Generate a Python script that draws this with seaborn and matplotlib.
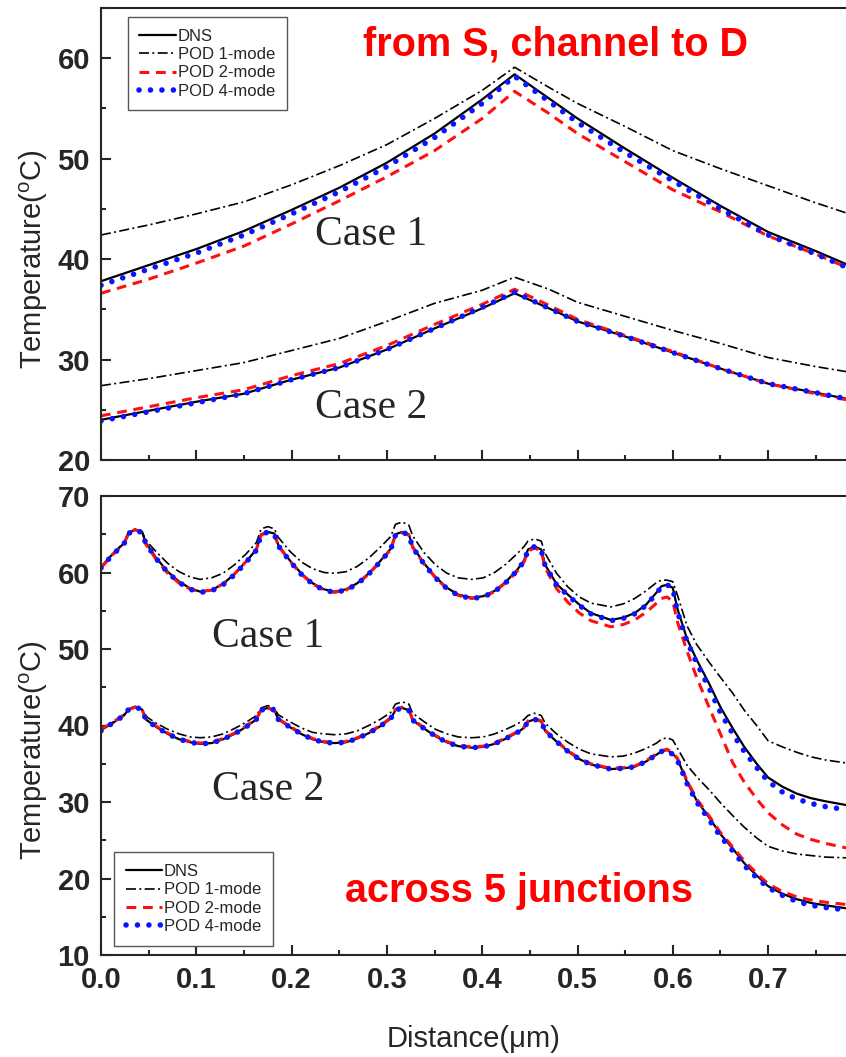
import numpy as np
import matplotlib
matplotlib.use('Agg')
import matplotlib.pyplot as plt
import seaborn as sns
from matplotlib.ticker import MultipleLocator

# ---- top panel: from S, channel to D ----
x_top = [0.000, 0.050, 0.100, 0.150, 0.200, 0.250, 0.300, 0.350, 0.400,
         0.434, 0.470, 0.500, 0.550, 0.600, 0.650, 0.700, 0.750, 0.782]

t1_dns = [37.8, 39.4, 41.0, 42.8, 44.9, 47.1, 49.6, 52.5, 55.9,
          58.4, 56.0, 54.0, 51.0, 48.1, 45.3, 42.7, 40.8, 39.5]
t1_pod1 = [42.4, 43.4, 44.5, 45.7, 47.4, 49.3, 51.4, 54.0, 56.8,
           59.1, 57.1, 55.5, 53.2, 50.8, 49.0, 47.3, 45.6, 44.6]
t1_pod2 = [36.6, 38.0, 39.6, 41.3, 43.5, 45.8, 48.2, 50.8, 54.0,
           56.7, 54.5, 52.5, 49.7, 46.9, 44.7, 42.3, 40.5, 39.2]
t1_pod4 = [37.4, 39.0, 40.6, 42.4, 44.5, 46.7, 49.2, 52.1, 55.5,
           58.2, 55.7, 53.6, 50.6, 47.8, 45.0, 42.4, 40.5, 39.2]

t2_dns = [24.0, 24.9, 25.8, 26.6, 28.0, 29.2, 31.0, 33.1, 35.1,
          36.6, 35.1, 33.8, 32.3, 30.7, 29.1, 27.6, 26.7, 26.1]
t2_pod1 = [27.4, 28.1, 28.9, 29.7, 30.9, 32.1, 33.8, 35.6, 36.9,
           38.2, 37.0, 35.7, 34.3, 32.9, 31.6, 30.2, 29.3, 28.8]
t2_pod2 = [24.4, 25.3, 26.2, 27.0, 28.4, 29.6, 31.4, 33.5, 35.5,
           37.0, 35.4, 34.0, 32.4, 30.8, 29.1, 27.6, 26.6, 26.0]
t2_pod4 = [23.9, 24.8, 25.7, 26.6, 28.0, 29.2, 31.0, 33.1, 35.2,
           36.7, 35.1, 33.8, 32.3, 30.7, 29.1, 27.6, 26.7, 26.1]

# ---- bottom panel: across 5 junctions ----
x_bot = [0.000, 0.012, 0.024, 0.029, 0.036, 0.043, 0.047, 0.058, 0.070, 0.082,
         0.094, 0.104, 0.116, 0.128, 0.140, 0.152, 0.163, 0.168, 0.175, 0.182,
         0.186, 0.198, 0.210, 0.222, 0.234, 0.245, 0.257, 0.269, 0.281, 0.293,
         0.304, 0.309, 0.316, 0.323, 0.327, 0.339, 0.351, 0.363, 0.375, 0.389,
         0.401, 0.413, 0.425, 0.437, 0.444, 0.448, 0.455, 0.462, 0.466, 0.478,
         0.490, 0.502, 0.514, 0.535, 0.548, 0.560, 0.572, 0.583, 0.588, 0.594,
         0.600, 0.605, 0.615, 0.625, 0.638, 0.650, 0.663, 0.675, 0.688, 0.700,
         0.715, 0.730, 0.745, 0.760, 0.782]

b1_dns = [60.7, 62.4, 63.8, 65.2, 65.6, 65.3, 63.9, 61.9, 60.1, 58.8,
          57.9, 57.5, 57.7, 58.5, 59.8, 61.4, 63.0, 65.0, 65.3, 65.1,
          63.6, 61.6, 59.9, 58.6, 57.8, 57.5, 57.8, 58.6, 59.9, 61.5,
          63.1, 65.0, 65.3, 65.0, 63.4, 61.2, 59.4, 58.0, 57.1, 56.7,
          56.9, 57.6, 58.8, 60.4, 61.6, 63.0, 63.4, 63.0, 61.0, 58.5,
          57.1, 55.8, 54.7, 53.8, 54.1, 54.7, 55.8, 57.4, 58.2, 58.4,
          58.0, 55.2, 51.3, 48.6, 45.5, 42.4, 39.6, 37.2, 35.0, 33.2,
          32.0, 31.1, 30.5, 30.1, 29.6]
b1_pod1 = [60.7, 62.4, 63.9, 65.3, 65.7, 65.4, 64.2, 62.7, 61.2, 60.1,
           59.4, 59.1, 59.3, 59.9, 61.0, 62.4, 63.9, 65.7, 66.0, 65.7,
           64.6, 62.8, 61.4, 60.5, 60.0, 59.9, 60.1, 60.8, 61.9, 63.3,
           64.7, 66.3, 66.6, 66.2, 64.8, 62.6, 61.0, 59.9, 59.3, 59.1,
           59.3, 60.0, 61.1, 62.5, 63.4, 64.1, 64.4, 64.1, 62.5, 59.9,
           58.1, 56.8, 56.0, 55.5, 55.9, 56.6, 57.6, 58.7, 59.0, 59.0,
           58.8, 57.0, 53.0, 50.6, 48.3, 46.3, 44.2, 42.0, 40.0, 38.0,
           37.2, 36.5, 35.9, 35.5, 35.1]
b1_pod2 = [60.6, 62.3, 63.7, 65.1, 65.6, 65.2, 63.7, 61.7, 59.9, 58.6,
           57.8, 57.5, 57.7, 58.5, 59.8, 61.4, 63.0, 64.9, 65.2, 65.0,
           63.5, 61.5, 59.8, 58.5, 57.7, 57.4, 57.7, 58.5, 59.8, 61.4,
           63.0, 64.9, 65.2, 64.9, 63.3, 61.1, 59.3, 57.9, 57.0, 56.6,
           56.8, 57.5, 58.7, 60.2, 61.4, 62.8, 63.2, 62.8, 60.6, 57.9,
           56.1, 54.7, 53.7, 52.9, 53.2, 53.8, 54.8, 56.0, 56.6, 56.8,
           56.2, 53.5, 49.7, 46.3, 42.4, 38.9, 35.1, 32.6, 30.4, 28.6,
           27.0, 25.8, 25.1, 24.6, 24.0]
b1_pod4 = [60.6, 62.3, 63.7, 65.1, 65.6, 65.2, 63.8, 61.8, 60.0, 58.7,
           57.8, 57.4, 57.6, 58.4, 59.7, 61.3, 62.9, 64.9, 65.3, 65.0,
           63.5, 61.5, 59.8, 58.5, 57.7, 57.4, 57.7, 58.5, 59.8, 61.4,
           63.0, 64.9, 65.3, 64.9, 63.3, 61.1, 59.3, 57.9, 57.0, 56.6,
           56.8, 57.5, 58.7, 60.3, 61.5, 62.9, 63.4, 62.9, 60.9, 58.4,
           57.0, 55.7, 54.6, 53.7, 54.0, 54.6, 55.7, 57.3, 58.1, 58.4,
           57.9, 54.8, 51.0, 48.2, 44.9, 41.7, 38.9, 36.6, 34.5, 32.7,
           31.3, 30.4, 29.8, 29.4, 29.0]

b2_dns = [39.4, 40.3, 41.3, 42.1, 42.4, 42.1, 40.8, 39.8, 38.9, 38.2,
          37.8, 37.6, 37.7, 38.2, 38.9, 39.8, 40.8, 42.0, 42.3, 42.0,
          40.8, 39.8, 38.9, 38.2, 37.8, 37.7, 37.8, 38.3, 39.0, 39.9,
          40.9, 42.0, 42.3, 42.0, 40.7, 39.6, 38.6, 37.8, 37.3, 37.1,
          37.2, 37.6, 38.3, 39.1, 39.7, 40.5, 40.8, 40.5, 39.3, 37.9,
          36.6, 35.6, 34.9, 34.3, 34.4, 34.6, 35.3, 36.2, 36.6, 36.8,
          36.3, 35.6, 32.6, 30.2, 28.0, 25.8, 23.9, 22.0, 20.4, 19.0,
          18.0, 17.3, 16.8, 16.5, 16.1]
b2_pod1 = [39.4, 40.4, 41.4, 42.2, 42.5, 42.2, 41.2, 40.3, 39.5, 38.9,
           38.5, 38.4, 38.5, 38.9, 39.6, 40.4, 41.3, 42.3, 42.6, 42.3,
           41.4, 40.5, 39.7, 39.1, 38.9, 38.8, 38.9, 39.3, 40.0, 40.8,
           41.7, 42.8, 43.1, 42.8, 41.6, 40.5, 39.5, 38.9, 38.5, 38.4,
           38.5, 38.9, 39.5, 40.2, 40.8, 41.3, 41.6, 41.3, 40.3, 38.9,
           37.8, 36.9, 36.3, 35.9, 36.0, 36.4, 37.0, 37.7, 38.2, 38.4,
           38.1, 37.0, 34.8, 33.3, 31.6, 29.9, 28.2, 26.7, 25.3, 24.2,
           23.6, 23.2, 23.0, 22.8, 22.7]
b2_pod2 = [39.5, 40.4, 41.4, 42.1, 42.4, 42.1, 40.9, 39.9, 39.0, 38.3,
           37.9, 37.7, 37.8, 38.3, 39.0, 39.9, 40.9, 42.0, 42.3, 42.0,
           40.9, 39.9, 39.0, 38.3, 37.9, 37.8, 37.9, 38.4, 39.1, 40.0,
           41.0, 42.1, 42.4, 42.1, 40.8, 39.7, 38.7, 37.9, 37.4, 37.2,
           37.3, 37.7, 38.4, 39.2, 39.8, 40.6, 40.9, 40.6, 39.4, 38.0,
           36.7, 35.7, 35.0, 34.4, 34.5, 34.7, 35.4, 36.3, 36.7, 36.9,
           36.4, 35.7, 32.8, 30.4, 28.2, 26.0, 24.1, 22.3, 20.7, 19.3,
           18.3, 17.6, 17.2, 16.9, 16.6]
b2_pod4 = [39.3, 40.3, 41.3, 42.1, 42.4, 42.1, 40.8, 39.8, 38.9, 38.2,
           37.8, 37.6, 37.7, 38.2, 38.9, 39.8, 40.8, 42.0, 42.3, 42.0,
           40.8, 39.8, 38.9, 38.2, 37.8, 37.7, 37.8, 38.3, 39.0, 39.9,
           40.9, 42.0, 42.3, 42.0, 40.7, 39.6, 38.6, 37.8, 37.3, 37.1,
           37.2, 37.6, 38.3, 39.1, 39.7, 40.5, 40.8, 40.5, 39.3, 37.9,
           36.6, 35.6, 34.9, 34.3, 34.4, 34.6, 35.3, 36.2, 36.6, 36.8,
           36.2, 35.4, 32.4, 30.0, 27.7, 25.5, 23.6, 21.7, 20.1, 18.8,
           17.8, 17.0, 16.5, 16.2, 15.9]

labels = ['DNS', 'POD 1-mode', 'POD 2-mode', 'POD 4-mode']

sns.set_style('ticks')
plt.rcParams['font.family'] = ['Liberation Sans', 'DejaVu Sans']
plt.rcParams['mathtext.fontset'] = 'custom'
plt.rcParams['mathtext.rm'] = 'Liberation Sans'
plt.rcParams['axes.linewidth'] = 1.5

# line styles for the four series
styles = [
    dict(color='black', lw=1.6, linestyle='-'),
    dict(color='black', lw=1.2, linestyle=(0, (6, 2, 1.2, 2))),
    dict(color='#ff1010', lw=2.2, linestyle=(0, (3.2, 2.2))),
    dict(color='#0a14ff', lw=4.0, linestyle=(0, (0.01, 2.05)), dash_capstyle='round'),
]

fig = plt.figure(figsize=(8.46, 10.57), dpi=100)
ax1 = fig.add_axes([101 / 846, 1 - 460 / 1057, 745 / 846, 452 / 1057])
ax2 = fig.add_axes([101 / 846, 1 - 955 / 1057, 745 / 846, 459 / 1057])


def draw(ax, x, groups):
    for case in groups:
        for ys, st, lab in zip(case, styles, labels):
            sns.lineplot(x=x, y=ys, ax=ax, label=lab, legend=False, **st)


draw(ax1, x_top, [[t1_dns, t1_pod1, t1_pod2, t1_pod4],
                  [t2_dns, t2_pod1, t2_pod2, t2_pod4]])
draw(ax2, x_bot, [[b1_dns, b1_pod1, b1_pod2, b1_pod4],
                  [b2_dns, b2_pod1, b2_pod2, b2_pod4]])

xmax = 745 / 953
ax1.set_xlim(0, xmax)
ax1.set_ylim(20, 65)
ax2.set_xlim(0, xmax)
ax2.set_ylim(10, 70)

for ax in (ax1, ax2):
    ax.spines['right'].set_visible(False)
    for s in ('top', 'left', 'bottom'):
        ax.spines[s].set_linewidth(1.5)
    ax.xaxis.set_major_locator(MultipleLocator(0.1))
    ax.xaxis.set_minor_locator(MultipleLocator(0.05))
    ax.yaxis.set_major_locator(MultipleLocator(10))
    ax.yaxis.set_minor_locator(MultipleLocator(5))
    ax.tick_params(which='both', direction='in', top=False, right=False, width=1.5)
    ax.tick_params(which='major', length=7, pad=8)
    ax.tick_params(which='minor', length=3.5)
    for t in ax.get_xticklabels() + ax.get_yticklabels():
        t.set_fontweight('bold')
        t.set_fontsize(21)
    ax.set_ylabel('Temperature($^{\\rm o}$C)', fontsize=21)
    ax.set_xlabel('')

ax1.tick_params(labelbottom=False)
ax1.yaxis.set_label_coords(-0.068, 0.445)
ax2.yaxis.set_label_coords(-0.068, 0.447)
ax2.set_xlabel('Distance(\u03bcm)', fontsize=21, labelpad=22)

# annotations
serif = ['Liberation Serif', 'DejaVu Serif']
ax1.text(0.2246, 41.4, 'Case 1', fontsize=30, family=serif)
ax1.text(0.2246, 24.2, 'Case 2', fontsize=30, family=serif)
ax2.text(0.1165, 50.3, 'Case 1', fontsize=30, family=serif)
ax2.text(0.1165, 30.3, 'Case 2', fontsize=30, family=serif)
ax1.text(0.275, 60.3, 'from S, channel to D', color='#ff0000', fontsize=28.5, fontweight='bold')
ax2.text(0.256, 16.9, 'across 5 junctions', color='#ff0000', fontsize=28.5, fontweight='bold')

leg_kw = dict(fontsize=12, frameon=True, fancybox=False, framealpha=1, edgecolor='#555555',
              borderpad=0.7, borderaxespad=0, handlelength=2.2, handletextpad=0.1,
              labelspacing=0.2)
for ax, loc, anchor in ((ax1, 'upper left', (0.036, 0.98)), (ax2, 'lower left', (0.0175, 0.02))):
    handles = ax.get_lines()[:4]
    leg = ax.legend(handles, labels, loc=loc, bbox_to_anchor=anchor, **leg_kw)
    leg.get_frame().set_linewidth(1.0)

fig.savefig('out.png', dpi=100)
